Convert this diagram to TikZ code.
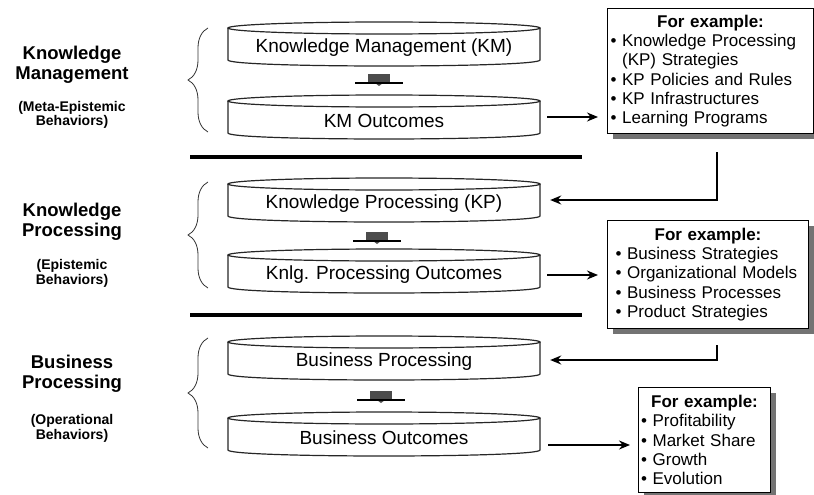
\documentclass[tikz,border=0pt]{standalone}
\usepackage{fontspec}
\setmainfont{Liberation Sans}
\usetikzlibrary{arrows.meta,decorations.pathreplacing,shadows}

% disk outline drawn around a named node (node centre = text centre)
\newcommand{\drawdisk}[1]{%
  \draw[diskline] ([xshift=-156pt,yshift=20pt]#1.center)
     -- ([xshift=-156pt,yshift=-12pt]#1.center)
     .. controls ([xshift=-156pt,yshift=-20pt]#1.center) and ([xshift=156pt,yshift=-20pt]#1.center)
     .. ([xshift=156pt,yshift=-12pt]#1.center)
     -- ([xshift=156pt,yshift=20pt]#1.center);
  \draw[diskline] ([yshift=20pt]#1.center) ellipse (156pt and 6pt);
}
% small block arrow between two disks
\newcommand{\blockarrow}[1]{%
  \fill[black!70] ([xshift=-11pt,yshift=6pt]#1) rectangle ([xshift=11pt,yshift=-3pt]#1);
  \fill[black!70] ([xshift=-4pt,yshift=-3pt]#1) -- ([xshift=4pt,yshift=-3pt]#1) -- ([yshift=-6pt]#1) -- cycle;
  \draw[line width=1.3pt] ([xshift=-24pt,yshift=-3pt]#1) -- ([xshift=24pt,yshift=-3pt]#1);
}
\newcommand{\extitle}{\makebox[\linewidth][c]{\textbf{For example:}}}

\begin{document}
\begin{tikzpicture}[x=1pt,y=-1pt,
  disk/.style={inner sep=0pt, minimum width=312pt, minimum height=30pt,
               font=\fontsize{19}{22}\selectfont},
  diskline/.style={line width=1.2pt, black!85},
  grouptitle/.style={align=center, font=\bfseries\fontsize{18.5}{20}\selectfont},
  groupsub/.style={align=center, font=\bfseries\fontsize{14}{14.5}\selectfont},
  sepline/.style={line width=4.5pt},
  brc/.style={decorate, decoration={brace, amplitude=20pt}, line width=0.8pt, black!80},
  arr/.style={line width=1.6pt, -{Stealth[length=11pt,width=9pt]}},
  exbox/.style={draw, line width=1pt, fill=white,
     drop shadow={shadow xshift=5pt, shadow yshift=-5pt, fill=black!55, opacity=1},
     font=\fontsize{17}{19.3}\selectfont, align=left, anchor=north west, inner ysep=0pt},
]
\useasboundingbox (0,0) rectangle (814,495);

% ---- left labels
\node[grouptitle] (t1) at (72,65) {Knowledge\\Management};
\node[groupsub]   (s1) at (72,115) {(Meta-Epistemic\\Behaviors)};
\node[grouptitle] (t2) at (72,222) {Knowledge\\Processing};
\node[groupsub]   (s2) at (72,273.5) {(Epistemic\\Behaviors)};
\node[grouptitle] (t3) at (72,374) {Business\\Processing};
\node[groupsub]   (s3) at (72,428.5) {(Operational\\Behaviors)};

% ---- braces
\draw[brc] (208,132) -- (208,28);
\draw[brc] (208,288) -- (208,182);
\draw[brc] (208,448) -- (208,338);

% ---- disks
\node[disk] (km)  at (384,48)  {Knowledge Management (KM)};
\node[disk] (kmo) at (384,121) {KM Outcomes};
\node[disk] (kp)  at (384,204) {Knowledge Processing (KP)};
\node[disk] (kpo) at (384,275) {Knlg. Processing Outcomes};
\node[disk] (bp)  at (384,362) {Business Processing};
\node[disk] (bo)  at (384,438) {Business Outcomes};
\foreach \n in {km,kmo,kp,kpo,bp,bo} {\drawdisk{\n}}

% ---- small block arrows
\coordinate (a1) at (379,80);
\coordinate (a2) at (377,238);
\coordinate (a3) at (381,397);
\blockarrow{a1}
\blockarrow{a2}
\blockarrow{a3}

% ---- separators
\draw[sepline] (190,157) -- (582,157);
\draw[sepline] (190,315) -- (582,315);

% ---- example boxes
\node[exbox, text width=200pt, inner xsep=3pt, minimum height=125pt] (ex1) at (607,8)
 {\extitle\\
  • Knowledge Processing\\
  \phantom{• }(KP) Strategies\\
  • KP Policies and Rules\\
  • KP Infrastructures\\
  • Learning Programs};
\node[exbox, text width=185pt, inner xsep=8pt, minimum height=108pt] (ex2) at (607,220)
 {\extitle\\
  • Business Strategies\\
  • Organizational Models\\
  • Business Processes\\
  • Product Strategies};
\node[exbox, text width=127pt, inner xsep=2.5pt, minimum height=105pt] (ex3) at (638,387)
 {\extitle\\
  • Profitability\\
  • Market Share\\
  • Growth\\
  • Evolution};

% ---- connectors
\draw[arr, shorten >=9pt] ([xshift=7pt,yshift=4pt]kmo.east) -- ([yshift=4pt]kmo.east -| ex1.west);
\draw[arr, shorten >=9pt] ([xshift=7pt]kpo.east) -- (kpo.east -| ex2.west);
\draw[arr, shorten >=8pt] ([xshift=8pt,yshift=-7pt]bo.east) -- ([yshift=-7pt]bo.east -| ex3.west);

\coordinate (c1) at (717,152);
\coordinate (c2) at (717,345);
\draw[arr, shorten >=10pt] (c1) |- ([yshift=4pt]kp.east);
\draw[arr, shorten >=10pt] (c2) |- ([yshift=2pt]bp.east);
\end{tikzpicture}
\end{document}
